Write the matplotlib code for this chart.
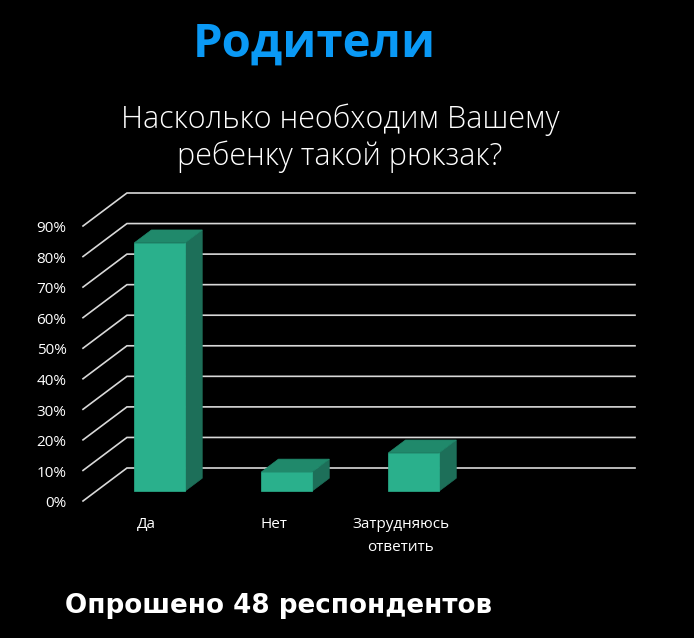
import matplotlib.pyplot as plt
from matplotlib.patches import Polygon

categories = ['Да', 'Нет', 'Затрудняюсь\nответить', '']
values = [81.25, 6.25, 12.5]          # % of 48 respondents
ticks = [0, 10, 20, 30, 40, 50, 60, 70, 80, 90]

title = 'Родители'
subtitle = 'Насколько необходим Вашему\nребенку такой рюкзак?'
footer = 'Опрошено 48 респондентов'

# pseudo 3d geometry (slot units / percent units)
wall_dx, wall_dy = 0.346, 10.8
bar_w = 0.40
d0, d1 = 0.30, 0.69    # bar front / back depth as fraction of wall depth

front_c = '#2AB08C'
top_c = '#20896B'
side_c = '#1D6F59'
grid_c = '#D9D9D9'

fig = plt.figure(figsize=(6.94, 6.38), dpi=100, facecolor='black')
ax = fig.add_axes([83 / 694, 1 - 501 / 638, 552 / 694, 308 / 638])
ax.set_facecolor('black')
ax.set_xlim(0, 4 + wall_dx)
ax.set_ylim(0, 90 + wall_dy)
ax.axis('off')

# walls / gridlines
for t in ticks:
    ax.plot([0, wall_dx, 4 + wall_dx], [t, t + wall_dy, t + wall_dy],
            color=grid_c, lw=1.2, zorder=1, clip_on=False, solid_joinstyle='miter')
    ax.text(-0.13, t - 0.9, f'{t}%', color='white', fontsize=11, family='Open Sans',
            ha='right', va='center')

# bars
for i, v in enumerate(values):
    x0 = i + 0.5 - bar_w / 2 + wall_dx * d0
    y0 = wall_dy * d0
    ddx = wall_dx * (d1 - d0)
    ddy = wall_dy * (d1 - d0)
    x1 = x0 + bar_w
    front = [(x0, y0), (x1, y0), (x1, y0 + v), (x0, y0 + v)]
    top = [(x0, y0 + v), (x1, y0 + v), (x1 + ddx, y0 + v + ddy), (x0 + ddx, y0 + v + ddy)]
    side = [(x1, y0), (x1 + ddx, y0 + ddy), (x1 + ddx, y0 + v + ddy), (x1, y0 + v)]
    for pts, c in [(side, side_c), (top, top_c), (front, front_c)]:
        ax.add_patch(Polygon(pts, closed=True, fc=c, ec=c, lw=0.5, zorder=3, clip_on=False))

for i, c in enumerate(categories):
    ax.text(i + 0.5, -5.2, c, color='white', fontsize=11, family='Open Sans',
            ha='center', va='top', linespacing=1.75)

fig.text(314 / 694, 1 - 44 / 638, title, color='#0A99F5', fontsize=34,
         fontweight='bold', family='Open Sans', ha='center', va='center')
fig.text(340 / 694, 1 - 138 / 638, subtitle, color='white', fontsize=22,
         fontweight='light', family='Open Sans', ha='center', va='center',
         linespacing=1.2)
fig.text(65 / 694, 1 - 606 / 638, footer, color='white', fontsize=18.8,
         fontweight='bold', family='DejaVu Sans', ha='left', va='center')

fig.savefig('out.png', facecolor='black')
